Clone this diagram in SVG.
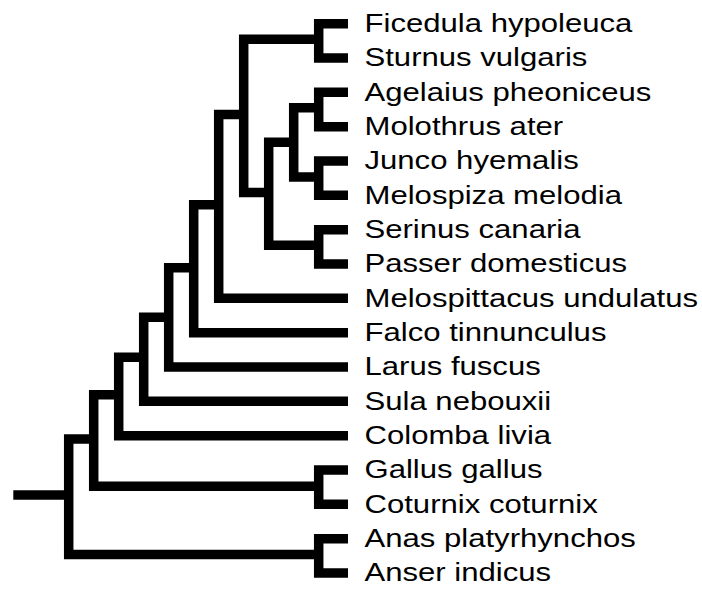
<svg xmlns="http://www.w3.org/2000/svg" width="702" height="590" viewBox="0 0 702 590">
<style>
.br{fill:none;stroke:#000;stroke-width:9.5;stroke-linecap:butt;stroke-linejoin:miter}
.lb{font-family:"Liberation Sans",Arial,Helvetica,sans-serif;font-size:25.6px;fill:#000}
</style>
<rect width="702" height="590" fill="#fff"/>
<g id="branches" class="br">
<path d="M13.3 495H68.7"/>
<path d="M93.7 439H68.7V554.5H318.7"/>
<path d="M118.7 394.7H93.7V486.3H318.7"/>
<path d="M143.7 357.2H118.7V435.66H348"/>
<path d="M168.7 317.2H143.7V401.33H348"/>
<path d="M193.7 267.8H168.7V367H348"/>
<path d="M218.7 204.7H193.7V332.67H348"/>
<path d="M243.7 114.5H218.7V298.34H348"/>
<path d="M318.7 39.2H243.7V192.5H268.7"/>
<path d="M293.7 142.2H268.7V245.3H318.7"/>
<path d="M318.7 107.8H293.7V177H318.7"/>
<path d="M348 23.7H318.7V58.03H348"/>
<path d="M348 92.36H318.7V126.69H348"/>
<path d="M348 161.02H318.7V195.35H348"/>
<path d="M348 229.68H318.7V264.01H348"/>
<path d="M348 469.99H318.7V504.32H348"/>
<path d="M348 538.65H318.7V572.98H348"/>
</g>
<g id="leaf-ficedula" transform="translate(364.5 32.1) scale(1.215 1)"><text class="lb">Ficedula hypoleuca</text></g>
<g id="leaf-sturnus" transform="translate(364.5 66.4) scale(1.215 1)"><text class="lb">Sturnus vulgaris</text></g>
<g id="leaf-agelaius" transform="translate(364.5 100.8) scale(1.215 1)"><text class="lb">Agelaius pheoniceus</text></g>
<g id="leaf-molothrus" transform="translate(364.5 135.1) scale(1.215 1)"><text class="lb">Molothrus ater</text></g>
<g id="leaf-junco" transform="translate(364.5 169.4) scale(1.215 1)"><text class="lb">Junco hyemalis</text></g>
<g id="leaf-melospiza" transform="translate(364.5 203.8) scale(1.215 1)"><text class="lb">Melospiza melodia</text></g>
<g id="leaf-serinus" transform="translate(364.5 238.1) scale(1.215 1)"><text class="lb">Serinus canaria</text></g>
<g id="leaf-passer" transform="translate(364.5 272.4) scale(1.215 1)"><text class="lb">Passer domesticus</text></g>
<g id="leaf-melospittacus" transform="translate(364.5 306.7) scale(1.215 1)"><text class="lb">Melospittacus undulatus</text></g>
<g id="leaf-falco" transform="translate(364.5 341.1) scale(1.215 1)"><text class="lb">Falco tinnunculus</text></g>
<g id="leaf-larus" transform="translate(364.5 375.4) scale(1.215 1)"><text class="lb">Larus fuscus</text></g>
<g id="leaf-sula" transform="translate(364.5 409.7) scale(1.215 1)"><text class="lb">Sula nebouxii</text></g>
<g id="leaf-colomba" transform="translate(364.5 444.1) scale(1.215 1)"><text class="lb">Colomba livia</text></g>
<g id="leaf-gallus" transform="translate(364.5 478.4) scale(1.215 1)"><text class="lb">Gallus gallus</text></g>
<g id="leaf-coturnix" transform="translate(364.5 512.7) scale(1.215 1)"><text class="lb">Coturnix coturnix</text></g>
<g id="leaf-anas" transform="translate(364.5 547.1) scale(1.215 1)"><text class="lb">Anas platyrhynchos</text></g>
<g id="leaf-anser" transform="translate(364.5 581.4) scale(1.215 1)"><text class="lb">Anser indicus</text></g>
</svg>
